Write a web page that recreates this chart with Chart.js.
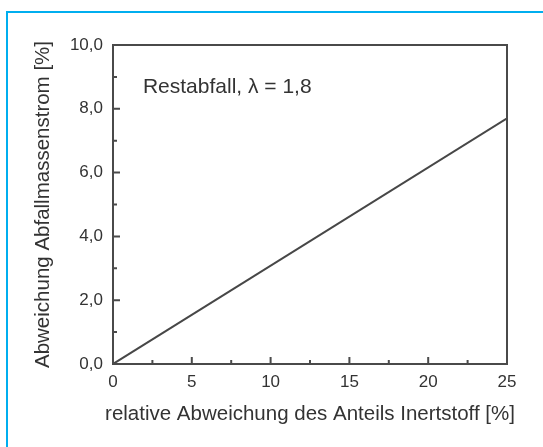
<!DOCTYPE html>
<html>
<head>
<meta charset="utf-8">
<script src="https://cdn.jsdelivr.net/npm/chart.js@4.4.1/dist/chart.umd.min.js"></script>
<style>
  html, body { margin: 0; padding: 0; background: #ffffff; }
  #wrap { width: 543px; height: 447px; position: relative; }
</style>
</head>
<body>
<div id="wrap"><canvas id="c" width="543" height="447"></canvas></div>
<script>
// Deviation of waste mass flow vs. relative deviation of inert fraction
const inertDeviation = [0, 25];          // relative Abweichung des Anteils Inertstoff [%]
const massFlowDeviation = [0, 7.7];      // Abweichung Abfallmassenstrom [%]
const xMajorTicks = [0, 5, 10, 15, 20, 25];
const xMinorTicks = [2.5, 7.5, 12.5, 17.5, 22.5];
const yMajorTicks = [0, 2, 4, 6, 8, 10];
const yMinorTicks = [1, 3, 5, 7, 9];
const xTitle = 'relative Abweichung des Anteils Inertstoff [%]';
const yTitle = 'Abweichung Abfallmassenstrom [%]';
const noteText = 'Restabfall, λ = 1,8';
const notePos = { x: 1.9, y: 8.68 };

const INK = '#333333';
const FONT = '"Liberation Sans", Arial, Helvetica, sans-serif';

// Frame, inward ticks, x title (allowed to run past the plot width), note, blue page border
const framePlugin = {
  id: 'frame',
  afterDraw(chart) {
    const { ctx, chartArea: a, scales: { x, y } } = chart;
    ctx.save();
    ctx.strokeStyle = '#4a4a4a';
    ctx.lineWidth = 2;
    ctx.strokeRect(a.left, a.top, a.right - a.left, a.bottom - a.top);
    ctx.beginPath();
    xMajorTicks.forEach(v => { const px = x.getPixelForValue(v); ctx.moveTo(px, a.bottom); ctx.lineTo(px, a.bottom - 7); });
    xMinorTicks.forEach(v => { const px = x.getPixelForValue(v); ctx.moveTo(px, a.bottom); ctx.lineTo(px, a.bottom - 4); });
    yMajorTicks.forEach(v => { const py = y.getPixelForValue(v); ctx.moveTo(a.left, py); ctx.lineTo(a.left + 7, py); });
    yMinorTicks.forEach(v => { const py = y.getPixelForValue(v); ctx.moveTo(a.left, py); ctx.lineTo(a.left + 4, py); });
    ctx.stroke();

    ctx.fillStyle = INK;
    ctx.textBaseline = 'middle';
    ctx.textAlign = 'center';
    ctx.font = '20.5px ' + FONT;
    ctx.fillText(xTitle, (a.left + a.right) / 2, x.bottom - 16);

    ctx.font = '21px ' + FONT;
    ctx.textAlign = 'left';
    ctx.fillText(noteText, x.getPixelForValue(notePos.x), y.getPixelForValue(notePos.y));

    ctx.strokeStyle = '#00aeef';
    ctx.lineWidth = 2;
    ctx.beginPath();
    ctx.moveTo(7, 447);
    ctx.lineTo(7, 12);
    ctx.lineTo(543, 12);
    ctx.stroke();
    ctx.restore();
  }
};

new Chart(document.getElementById('c'), {
  type: 'scatter',
  data: {
    datasets: [{
      data: inertDeviation.map((v, i) => ({ x: v, y: massFlowDeviation[i] })),
      showLine: true,
      borderColor: '#474747',
      borderWidth: 2,
      pointRadius: 0,
      fill: false
    }]
  },
  options: {
    responsive: false,
    animation: false,
    devicePixelRatio: 1,
    layout: { padding: { left: 27, top: 45, right: 36, bottom: 17 } },
    plugins: { legend: { display: false }, tooltip: { enabled: false } },
    scales: {
      x: {
        type: 'linear',
        min: 0, max: 25,
        grid: { display: false, drawTicks: false },
        border: { display: false },
        afterBuildTicks: s => { s.ticks = xMajorTicks.map(v => ({ value: v })); },
        ticks: {
          color: INK, padding: 8,
          font: { family: FONT, size: 17 },
          callback: v => String(v)
        },
        title: { display: false },
        afterFit: s => { s.height = 66; }
      },
      y: {
        type: 'linear',
        min: 0, max: 10,
        grid: { display: false, drawTicks: false },
        border: { display: false },
        afterBuildTicks: s => { s.ticks = yMajorTicks.map(v => ({ value: v })); },
        ticks: {
          color: INK, padding: 10,
          font: { family: FONT, size: 17 },
          callback: v => v.toFixed(1).replace('.', ',')
        },
        title: {
          display: true,
          text: yTitle,
          color: INK,
          font: { family: FONT, size: 20.5 },
          padding: { top: 4, bottom: 4 }
        },
        afterFit: s => { s.width = 86; }
      }
    }
  },
  plugins: [framePlugin]
});
</script>
</body>
</html>
